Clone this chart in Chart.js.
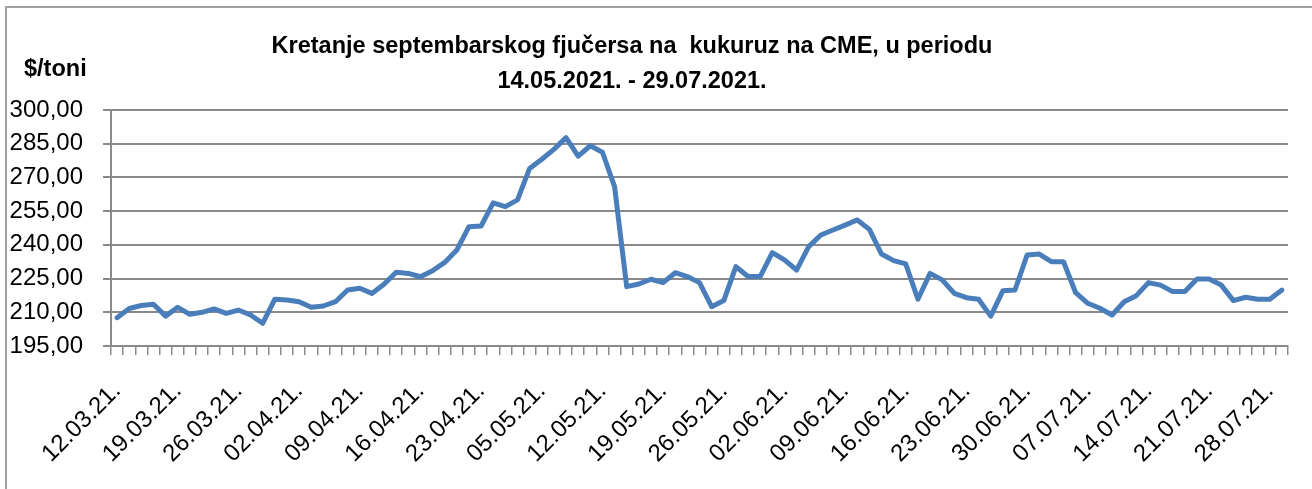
<!DOCTYPE html>
<html>
<head>
<meta charset="utf-8">
<script src="https://cdn.jsdelivr.net/npm/chart.js@4.4.0/dist/chart.umd.min.js"></script>
<style>
  html, body { margin: 0; padding: 0; background: #fff; }
  #wrap { width: 1312px; height: 489px; position: relative; }
</style>
</head>
<body>
<div id="wrap"><canvas id="chart"></canvas></div>
<script>
const titleLines = ['Kretanje septembarskog fjučersa na  kukuruz na CME, u periodu', '14.05.2021. - 29.07.2021.'];
const unitLabel = '$/toni';

const dates = [
  '12.03.21.', '15.03.21.', '16.03.21.', '17.03.21.', '18.03.21.',
  '19.03.21.', '22.03.21.', '23.03.21.', '24.03.21.', '25.03.21.',
  '26.03.21.', '29.03.21.', '30.03.21.', '31.03.21.', '01.04.21.',
  '02.04.21.', '05.04.21.', '06.04.21.', '07.04.21.', '08.04.21.',
  '09.04.21.', '12.04.21.', '13.04.21.', '14.04.21.', '15.04.21.',
  '16.04.21.', '19.04.21.', '20.04.21.', '21.04.21.', '22.04.21.',
  '23.04.21.', '26.04.21.', '27.04.21.', '28.04.21.', '29.04.21.',
  '05.05.21.', '06.05.21.', '07.05.21.', '10.05.21.', '11.05.21.',
  '12.05.21.', '13.05.21.', '14.05.21.', '17.05.21.', '18.05.21.',
  '19.05.21.', '20.05.21.', '21.05.21.', '24.05.21.', '25.05.21.',
  '26.05.21.', '27.05.21.', '28.05.21.', '31.05.21.', '01.06.21.',
  '02.06.21.', '03.06.21.', '04.06.21.', '07.06.21.', '08.06.21.',
  '09.06.21.', '10.06.21.', '11.06.21.', '14.06.21.', '15.06.21.',
  '16.06.21.', '17.06.21.', '18.06.21.', '21.06.21.', '22.06.21.',
  '23.06.21.', '24.06.21.', '25.06.21.', '28.06.21.', '29.06.21.',
  '30.06.21.', '01.07.21.', '02.07.21.', '05.07.21.', '06.07.21.',
  '07.07.21.', '08.07.21.', '09.07.21.', '12.07.21.', '13.07.21.',
  '14.07.21.', '15.07.21.', '16.07.21.', '19.07.21.', '20.07.21.',
  '21.07.21.', '22.07.21.', '23.07.21.', '26.07.21.', '27.07.21.',
  '28.07.21.', '29.07.21.'
];

const prices = [
  207.6, 211.7, 213.0, 213.6, 208.3, 212.2, 209.1, 210.0, 211.5, 209.5,
  211.0, 208.8, 205.1, 215.8, 215.5, 214.7, 212.2, 212.8, 214.7, 219.9,
  220.7, 218.4, 222.5, 227.8, 227.3, 225.8, 228.5, 232.2, 237.7, 248.1,
  248.4, 258.7, 257.0, 260.0, 274.0, 278.1, 282.5, 287.7, 279.5, 284.1,
  281.2, 265.9, 221.4, 222.6, 224.7, 223.2, 227.6, 225.9, 223.2, 212.5,
  215.2, 230.3, 225.9, 225.9, 236.5, 233.3, 228.8, 239.2, 244.4, 246.6,
  248.8, 251.1, 246.9, 235.9, 233.0, 231.5, 215.8, 227.3, 224.4, 218.4,
  216.5, 215.8, 208.3, 219.6, 219.9, 235.5, 235.9, 232.5, 232.5, 218.7,
  214.0, 211.8, 208.8, 214.7, 217.4, 223.2, 222.1, 219.2, 219.2, 224.8,
  224.8, 222.1, 215.2, 216.7, 215.8, 215.8, 219.9
];

const yTicks = [195, 210, 225, 240, 255, 270, 285, 300];
const labelEvery = 5;

const axisGray = '#8a8a8a';
const baseFont = '"Liberation Sans", Arial, sans-serif';

// frame lines of the original screenshot + titles
const frameAndTitle = {
  id: 'frameAndTitle',
  beforeDraw(chart) {
    const ctx = chart.ctx;
    ctx.save();
    ctx.strokeStyle = '#a0a0a0';
    ctx.lineWidth = 2;
    ctx.beginPath();
    ctx.moveTo(6, chart.height);
    ctx.lineTo(6, 7);
    ctx.lineTo(chart.width, 7);
    ctx.stroke();

    ctx.fillStyle = '#000';
    ctx.font = 'bold 23.5px ' + baseFont;
    ctx.textAlign = 'center';
    ctx.textBaseline = 'middle';
    titleLines.forEach((t, i) => ctx.fillText(t, 632, 47 + i * 35));
    ctx.textAlign = 'left';
    ctx.fillText(unitLabel, 24, 70);
    ctx.restore();
  }
};

new Chart(document.getElementById('chart'), {
  type: 'line',
  data: {
    labels: dates,
    datasets: [{
      data: prices,
      borderColor: '#4a7ebb',
      borderWidth: 5,
      borderJoinStyle: 'round',
      borderCapStyle: 'round',
      pointRadius: 0,
      tension: 0,
      fill: false
    }]
  },
  options: {
    responsive: true,
    maintainAspectRatio: false,
    animation: false,
    layout: { padding: { left: 0, top: 110, right: 24, bottom: 0 } },
    plugins: {
      legend: { display: false },
      title: { display: false },
      tooltip: { enabled: false }
    },
    scales: {
      x: {
        offset: true,
        afterFit: s => {
          s.height = 143;
          s.paddingLeft = 0;
          s.paddingRight = 0;
        },
        grid: {
          offset: true,
          drawOnChartArea: false,
          drawTicks: true,
          tickLength: 9,
          color: axisGray,
          lineWidth: 1.5
        },
        border: { display: true, color: axisGray, width: 2 },
        ticks: {
          autoSkip: false,
          minRotation: 45,
          maxRotation: 45,
          padding: 22,
          color: '#000',
          font: { family: baseFont, size: 24 },
          callback: (v, i) => (i % labelEvery === 0 ? dates[i] : '')
        }
      },
      y: {
        min: 195,
        max: 300,
        afterFit: s => {
          s.width = 111;
          s.paddingTop = 0;
          s.paddingBottom = 0;
        },
        afterBuildTicks: s => { s.ticks = yTicks.map(v => ({ value: v })); },
        grid: {
          color: axisGray,
          lineWidth: 2,
          drawTicks: true,
          tickLength: 8
        },
        border: { display: true, color: axisGray, width: 2 },
        ticks: {
          padding: 20,
          color: '#000',
          font: { family: baseFont, size: 24 },
          callback: v => v.toFixed(2).replace('.', ',')
        }
      }
    }
  },
  plugins: [frameAndTitle]
});
</script>
</body>
</html>
